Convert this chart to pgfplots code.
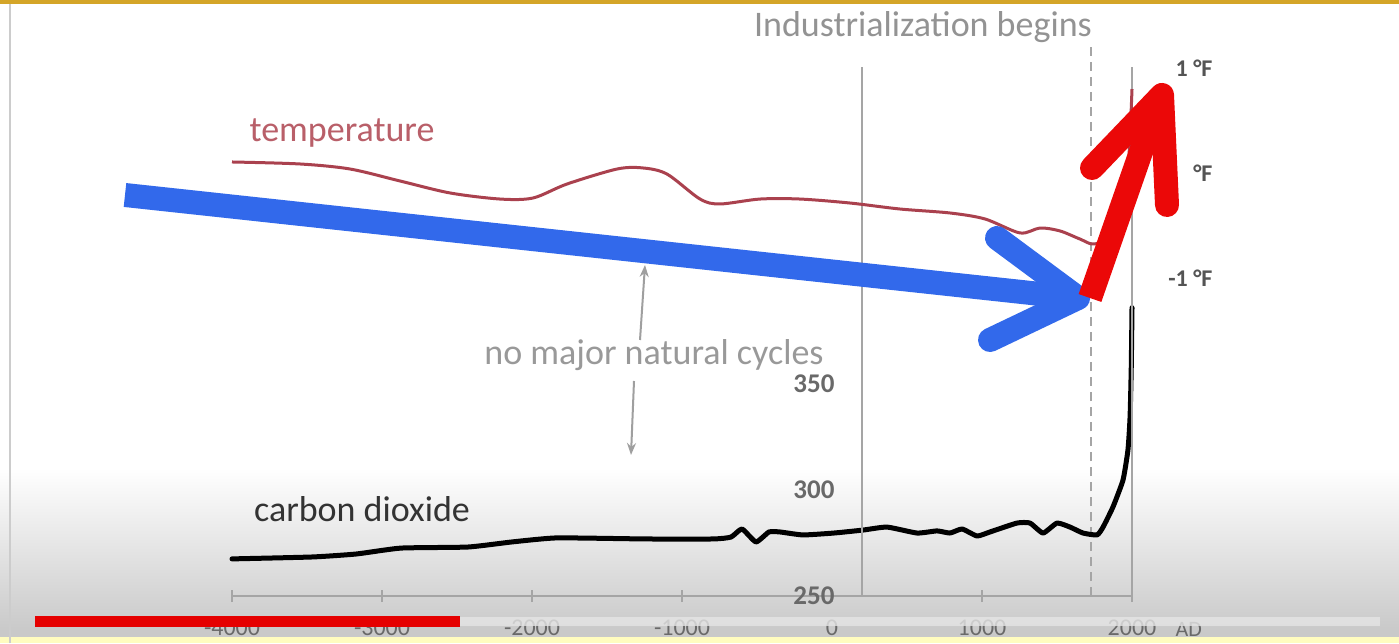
\documentclass[border=0pt]{standalone}
\usepackage{pgfplots}
\pgfplotsset{compat=1.18}
\usepackage{pgfplotstable}
\usepackage{fontspec}
\setmainfont{Carlito}
\usetikzlibrary{arrows.meta}
\definecolor{axgray}{RGB}{165,165,165}
\definecolor{labgray}{RGB}{105,105,105}
\definecolor{tempred}{RGB}{170,65,78}
\definecolor{templab}{RGB}{185,95,105}
\definecolor{arrowblue}{RGB}{50,105,235}
\definecolor{arrowred}{RGB}{235,8,8}
\definecolor{gold}{RGB}{212,165,40}

\pgfplotstableread{
year T
-4000 0.105
-3547 0.086
-3213 0.038
-2880 -0.076
-2547 -0.19
-2213 -0.248
-1993 -0.238
-1767 -0.105
-1433 0.038
-1260 0.048
-1100 -0.01
-880 -0.248
-747 -0.295
-480 -0.248
-213 -0.248
120 -0.286
453 -0.343
787 -0.381
1020 -0.438
1253 -0.571
1387 -0.524
1520 -0.552
1653 -0.629
1753 -0.676
1900 -0.55
1960 -0.2
1985 0.3
2000 0.8
}\temptable

\pgfplotstableread{
year ppm
-4000 267.5
-3467 268.4
-3173 269.8
-2873 272.6
-2427 273.1
-2133 275.5
-1833 277.4
-1240 276.9
-793 276.9
-673 277.8
-600 281.6
-507 275.5
-420 280.2
-347 280.2
-193 278.8
13 279.7
207 281.1
367 282.5
567 279.7
700 280.7
787 279.7
867 281.6
967 278.3
1053 280.2
1233 284.4
1320 284.4
1407 279.7
1500 284.4
1587 282.5
1673 279.7
1767 278.8
1807 282.5
1873 292.0
1940 304.7
1973 318.9
1987 334.4
1995 358
2000 386
}\cotable

\begin{document}
\begin{tikzpicture}
\useasboundingbox (0,0) rectangle (1399pt,643pt);
% background (video frame)
\fill[white] (0,0) rectangle (1399pt,643pt);
\shade[top color=white, bottom color=gray!42] (0,13pt) rectangle (1399pt,175pt);
\fill[gray!42] (0,0) rectangle (1399pt,13pt);
\fill[yellow!25!white] (0,0) rectangle (1399pt,6pt);
\fill[gold] (0,639pt) rectangle (1399pt,643pt);
\draw[gray!40, line width=1.5pt] (10pt,0) -- (10pt,639pt);

% main axis: x axis and carbon dioxide
\begin{axis}[
  at={(232pt,47pt)}, anchor=south west, scale only axis,
  width=900pt, height=529pt,
  xmin=-4000, xmax=2000, ymin=250, ymax=499.5,
  axis x line=bottom, axis y line=none,
  axis line style={draw=axgray, line width=1.5pt, -},
  xtick={-4000,-3000,-2000,-1000,0,1000,2000},
  xticklabels={-4000,-3000,-2000,-1000,0,1000,2000},
  tick align=center, major tick length=12pt,
  tick style={draw=axgray, line width=1.2pt},
  xticklabel style={font=\fontsize{24}{28}\selectfont, text=labgray, yshift=-14pt},
  clip=false,
]
\draw[axgray, line width=2pt, dash pattern=on 9pt off 6pt] (axis cs:1725,250) -- (axis cs:1725,509);
\addplot[black, line width=5pt, line join=round, line cap=round, smooth, tension=0.3] table[x=year, y=ppm] {\cotable};
\node[font=\fontsize{22}{26}\selectfont, text=labgray, anchor=west] at (axis cs:2000,250) [xshift=40pt, yshift=-33pt] {AD};
\end{axis}

% carbon dioxide scale at year 200
\begin{axis}[
  at={(862pt,47pt)}, anchor=south west, scale only axis,
  width=270pt, height=529pt,
  xmin=200, xmax=2000, ymin=250, ymax=499.5,
  axis x line=none, axis y line=left,
  axis line style={draw=axgray, line width=1.5pt, -},
  ytick={250,300,350}, yticklabels={250,300,350},
  major tick length=0pt,
  yticklabel style={font=\fontsize{27}{30}\selectfont\bfseries, text=labgray, anchor=east, xshift=-24pt},
]
\end{axis}

% temperature scale at year 2000
\begin{axis}[
  at={(232pt,47pt)}, anchor=south west, scale only axis,
  width=900pt, height=529pt,
  xmin=-4000, xmax=2000, ymin=-4.03, ymax=1.01,
  axis x line=none, axis y line=right,
  axis line style={draw=axgray, line width=1.5pt, -},
  ytick={-1,0,1}, yticklabels={-1 °F,°F,1 °F},
  major tick length=0pt,
  yticklabel style={font=\fontsize{24}{28}\selectfont\bfseries, text=labgray!80!black, anchor=east, xshift=84pt},
  clip=false,
]
\addplot[tempred, line width=3pt, smooth, tension=0.5] table[x=year, y=T] {\temptable};
\end{axis}

% texts
\node[font=\fontsize{36}{40}\selectfont, text=gray!85] at (923pt,616pt) {Industrialization begins};
\node[font=\fontsize{36}{40}\selectfont, text=templab] at (342pt,510pt) {temperature};
\node[font=\fontsize{36}{40}\selectfont, text=black!80] at (362pt,134pt) {carbon dioxide};
\node[font=\fontsize{36}{40}\selectfont, text=gray!80] at (654pt,288pt) {no major natural cycles};

% gray pointer arrows
\draw[gray!75, line width=2pt, -{Stealth[length=12pt,width=9pt]}] (640pt,303pt) -- (645pt,378pt);
\draw[gray!75, line width=2pt, -{Stealth[length=12pt,width=9pt]}] (634pt,262pt) -- (631pt,188pt);

% blue arrow
\draw[arrowblue, line width=24pt, line cap=butt] (125pt,448pt) -- (1068pt,346pt);
\draw[arrowblue, line width=24pt, line cap=round, line join=round] (997pt,405pt) -- (1078pt,345pt) -- (990pt,303pt);

% red arrow
\draw[arrowred, line width=24pt, line cap=butt] (1090pt,345pt) -- (1158pt,540pt);
\draw[arrowred, line width=24pt, line cap=round, line join=round] (1092pt,475pt) -- (1162pt,548pt) -- (1167pt,438pt);

% video progress bar
\fill[gray!20, opacity=0.8] (460pt,17pt) rectangle (1380pt,26pt);
\fill[red!90!black] (35pt,16pt) rectangle (460pt,27pt);
\end{tikzpicture}
\end{document}
